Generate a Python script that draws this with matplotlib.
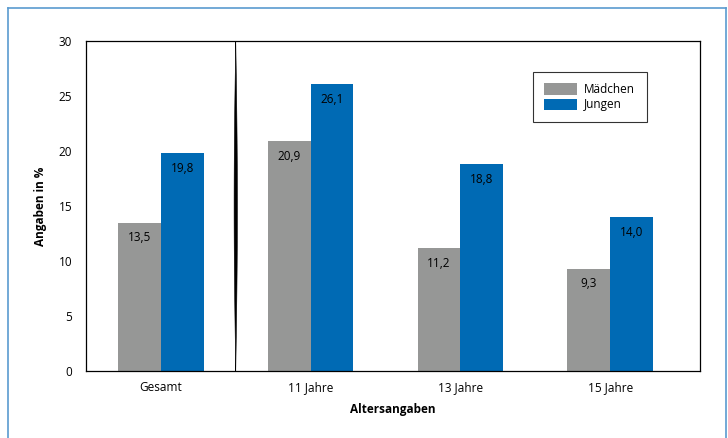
import numpy as np
import matplotlib
matplotlib.use("Agg")
import matplotlib.pyplot as plt
from matplotlib.patches import Patch, Polygon
from matplotlib.lines import Line2D

categories = ["Gesamt", "11 Jahre", "13 Jahre", "15 Jahre"]
maedchen = [13.5, 20.9, 11.2, 9.3]
jungen = [19.8, 26.1, 18.8, 14.0]
yticks = [0, 5, 10, 15, 20, 25, 30]

grey = "#969796"
blue = "#006AB4"

plt.rcParams['font.family'] = ['Open Sans', 'DejaVu Sans']

fig = plt.figure(figsize=(7.28, 4.38), dpi=100)
ax = fig.add_axes([86/728, 1-371/438, 614/728, 330/438])

x = np.arange(len(categories))
w = 0.285
b1 = ax.bar(x - w/2, maedchen, width=w, color=grey, label="Mädchen")
b2 = ax.bar(x + w/2, jungen, width=w, color=blue, label="Jungen")

for bars, vals in ((b1, maedchen), (b2, jungen)):
    for r, v in zip(bars, vals):
        ax.annotate(f"{v:.1f}".replace(".", ","),
                    (r.get_x() + r.get_width()/2, v),
                    xytext=(0, -11), textcoords="offset points",
                    ha="center", va="center", fontsize=8.5, color="black")

# lens-shaped separator
ys = np.linspace(0, 30, 80)
hw = 0.011 * np.sin(np.pi * ys / 30)
pts = np.concatenate([np.column_stack([0.5 - hw, ys]),
                      np.column_stack([0.5 + hw[::-1], ys[::-1]])])
ax.add_patch(Polygon(pts, closed=True, color="black", lw=0.4))

ax.set_xlim(-0.5, 3.6)
ax.set_ylim(0, 30)
ax.set_yticks(yticks)
ax.set_yticklabels([str(t) for t in yticks], fontsize=8.5)
ax.set_xticks(x)
ax.set_xticklabels(categories, fontsize=8.5)
ax.tick_params(axis='x', length=0, pad=7)
ax.tick_params(axis='y', length=0, pad=10)
for s in ax.spines.values():
    s.set_linewidth(0.9)
    s.set_color("black")

ax.set_ylabel("Angaben in %", fontsize=8.5, fontweight="bold", labelpad=8)
ax.set_xlabel("Altersangaben", fontsize=8.5, fontweight="bold", labelpad=7)

leg = ax.legend(loc="upper left", bbox_to_anchor=(0.728, 0.907), fontsize=8.5,
                frameon=True, fancybox=False, edgecolor="black",
                handlelength=2.8, handleheight=1.1, handletextpad=0.6,
                borderpad=0.95, labelspacing=0.2, borderaxespad=0)
leg.get_frame().set_linewidth(0.8)

border = "#5a9bd0"
fig.add_artist(Line2D([8/728, 8/728], [0, 1-8/438], color=border, lw=1.2, transform=fig.transFigure))
fig.add_artist(Line2D([8/728, 726/728], [1-8/438, 1-8/438], color=border, lw=1.2, transform=fig.transFigure))
fig.add_artist(Line2D([726/728, 726/728], [0, 1-8/438], color=border, lw=1.2, transform=fig.transFigure))

fig.savefig("out.png", dpi=100)
